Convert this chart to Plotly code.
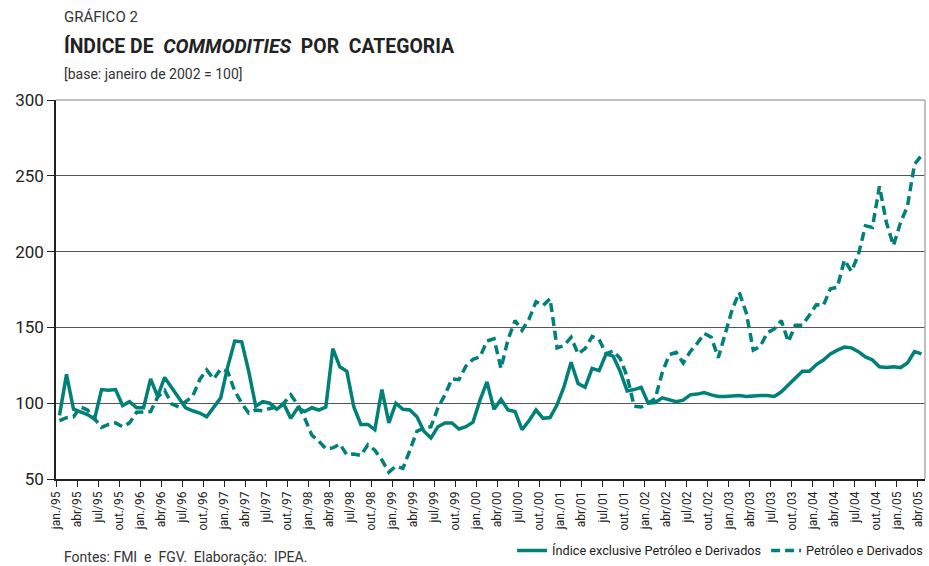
import plotly.graph_objects as go

# monthly, jan/95 .. abr/05 (124 months)
anos = ['95', '96', '97', '98', '99', '00', '01', '02', '03', '04', '05']
meses = ['jan.', 'fev', 'mar', 'abr', 'mai', 'jun', 'jul', 'ago', 'set', 'out.', 'nov', 'dez']
periodos = [m + '/' + a for a in anos for m in meses][:124]

indice_exclusive = [
    92, 119, 96, 94, 92.5, 89.5, 109, 108.5, 109, 98.5, 101, 97,
    97, 116, 104.5, 117, 110, 103, 97, 95, 93.5, 91, 97.5, 103.5,
    124, 141, 140.5, 121, 98, 101, 100, 96, 99.5, 90, 97, 94.5,
    97, 95.5, 97.5, 136, 124, 121, 97.5, 86, 86, 82.5, 109, 87,
    100, 96, 95.5, 91, 81.5, 77, 84.5, 87, 87, 83, 84.5, 87.5,
    102, 114, 96, 102.5, 95.5, 94.5, 82.5, 88.5, 95.5, 90, 90.5, 99,
    111, 127, 113, 110.5, 123, 121.5, 132.5, 131, 121, 108, 109, 110.5,
    100, 100.5, 103.5, 102, 101, 102, 105.5, 106, 107, 105.5, 104.5, 104.5,
    105, 105, 104.5, 105, 105, 105, 104.5, 107.5, 112, 116, 121, 121,
    125.5, 128.5, 132.5, 135, 137, 136.5, 134, 130.5, 128.5, 124, 123.5, 124,
    123.5, 126.5, 134, 132.5,
]

petroleo = [
    88.5, 90.5, 91, 97.5, 95.5, 90, 84, 86, 87, 84.5, 87, 94,
    94, 94.5, 104, 108.5, 99.5, 97.5, 101, 104.5, 115.5, 122, 116, 122.5,
    121, 108, 100, 93.5, 95.5, 95, 96.5, 97.5, 100, 105.5, 99, 90,
    79, 75, 70, 70.5, 73, 66, 66.5, 65.5, 72.5, 69, 62.5, 54.5,
    58.5, 57, 69, 81.5, 83.5, 84.5, 97, 105.5, 116, 115.5, 124.5, 129,
    130.5, 141, 142.5, 123, 142, 154.5, 148, 155.5, 167, 164.5, 169, 136.5,
    138, 143.5, 132.5, 136, 144, 142, 132.5, 134.5, 129.5, 117.5, 98, 97.5,
    100, 103, 120, 132, 133.5, 126.5, 134, 139.5, 146, 143.5, 130, 147,
    162, 173, 159.5, 135, 137.5, 146.5, 149, 154.5, 140.5, 151.5, 151.5, 158,
    165, 164.5, 175.5, 176.5, 194.5, 187, 198, 217, 216, 243, 219, 204,
    219, 230, 257.5, 263.5,
]

cor = '#008078'
fonte = 'Roboto, sans-serif'

x = list(range(len(periodos)))
tick_pos = [i - 0.5 for i in range(0, len(periodos), 3)]
tick_txt = [periodos[i] for i in range(0, len(periodos), 3)]

fig = go.Figure()
fig.add_trace(go.Scatter(
    x=x, y=indice_exclusive, mode='lines',
    name='Índice exclusive Petróleo e Derivados',
    line=dict(color=cor, width=3.5),
))
fig.add_trace(go.Scatter(
    x=x, y=petroleo, mode='lines',
    name='Petróleo e Derivados',
    line=dict(color=cor, width=3.5, dash='9px,5px'),
))

fig.update_layout(
    width=929, height=566,
    margin=dict(l=56, r=4, t=100, b=87, autoexpand=False),
    paper_bgcolor='white', plot_bgcolor='white',
    font=dict(family=fonte, color='#222'),
    showlegend=True,
    legend=dict(orientation='h', xref='container', yref='container',
                x=0.999, xanchor='right', y=0.027, yanchor='middle',
                font=dict(size=12.7, color='#222'), bgcolor='rgba(0,0,0,0)',
                itemwidth=30, tracegroupgap=0),
    xaxis=dict(
        range=[-0.5, len(periodos) - 0.5], automargin=False,
        tickmode='array', tickvals=tick_pos, ticktext=tick_txt,
        tickangle=-90, tickfont=dict(size=12, color='#222'),
        ticks='outside', ticklen=6, tickcolor='#222',
        showline=True, linecolor='#222', linewidth=1.5,
        showgrid=False, zeroline=False,
    ),
    yaxis=dict(
        range=[50, 300], dtick=50, automargin=False,
        tickfont=dict(size=17, color='#222'),
        ticks='outside', ticklen=7, tickcolor='#222',
        showline=True, linecolor='#222', linewidth=1.5,
        showgrid=True, gridcolor='#555', gridwidth=1.3,
        zeroline=False,
    ),
    shapes=[
        dict(type='line', xref='paper', yref='paper', x0=0, x1=1, y0=1, y1=1,
             line=dict(color='#aaa', width=1.5)),
        dict(type='line', xref='paper', yref='paper', x0=1, x1=1, y0=0, y1=1,
             line=dict(color='#aaa', width=1.5)),
    ],
    annotations=[
        dict(text='GRÁFICO 2', xref='paper', yref='paper', x=0.007, y=1.219,
             xanchor='left', yanchor='middle', showarrow=False,
             font=dict(size=15, color='#333')),
        dict(text='<b>ÍNDICE DE  <i>COMMODITIES</i>  POR  CATEGORIA</b>',
             xref='paper', yref='paper', x=0.007, y=1.143,
             xanchor='left', yanchor='middle', showarrow=False,
             font=dict(size=19.4, color='#222')),
        dict(text='[base: janeiro de 2002 = 100]', xref='paper', yref='paper',
             x=0.007, y=1.069, xanchor='left', yanchor='middle', showarrow=False,
             font=dict(size=14, color='#333')),
        dict(text='Fontes: FMI  e  FGV.  Elaboração:  IPEA.', xref='paper', yref='paper',
             x=0.007, y=-0.206, xanchor='left', yanchor='middle', showarrow=False,
             font=dict(size=14, color='#333')),
    ],
)

# the page's default body margin would shift the figure by 8px
fig.write_html('out.html', config={'displayModeBar': False},
               post_script="document.body.style.margin='0';document.body.style.overflow='hidden';")
